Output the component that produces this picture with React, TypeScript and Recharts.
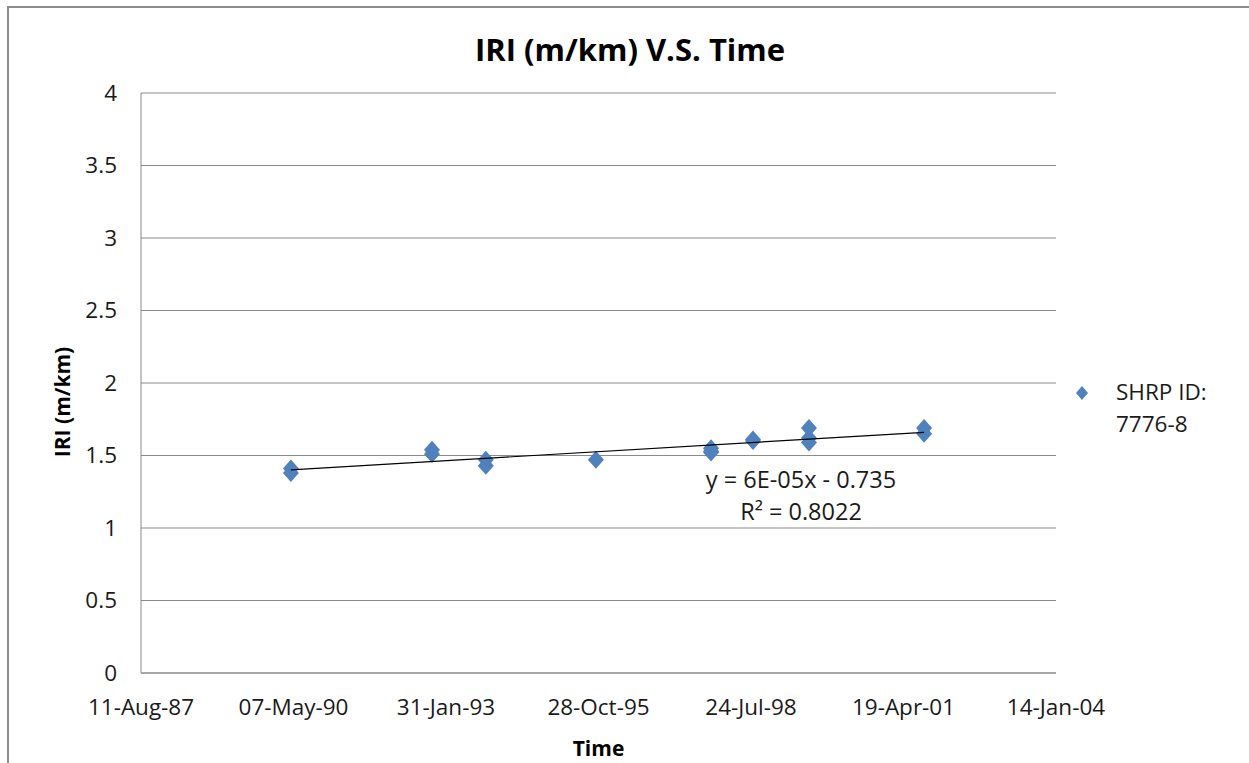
import React from 'react'
import { ScatterChart, Scatter, XAxis, YAxis, CartesianGrid } from 'recharts'

// survey dates and IRI readings (m/km)
const surveyDates = [
  '1990-04-20', '1990-04-20',
  '1992-10-31', '1992-10-31',
  '1993-10-19', '1993-10-19',
  '1995-10-11',
  '1997-11-04', '1997-11-04', '1997-11-04',
  '1998-08-06', '1998-08-06',
  '1999-08-08', '1999-08-08', '1999-08-08',
  '2001-09-01', '2001-09-01',
]
const iriValues = [
  1.41, 1.38,
  1.54, 1.51,
  1.47, 1.43,
  1.47,
  1.55, 1.53, 1.52,
  1.61, 1.60,
  1.69, 1.62, 1.59,
  1.69, 1.65,
]
// Excel date serials (11-Aug-87 ... 14-Jan-04)
const xTicks = [32000, 33000, 34000, 35000, 36000, 37000, 38000]
const yTicks = [0, 0.5, 1, 1.5, 2, 2.5, 3, 3.5, 4]
const seriesName = ['SHRP ID:', '7776-8']
const equation = 'y = 6E-05x - 0.735'
const rSquared = 'R² = 0.8022'

const FONT = '"Open Sans", sans-serif'
const BLUE = '#4F81BD'
const GRID = '#8a8a8a'
const MONTHS = ['Jan', 'Feb', 'Mar', 'Apr', 'May', 'Jun', 'Jul', 'Aug', 'Sep', 'Oct', 'Nov', 'Dec']

const toSerial = (s: string) => {
  const [y, m, d] = s.split('-').map(Number)
  return Date.UTC(y, m - 1, d) / 86400000 + 25569
}

const fmtSerial = (v: number) => {
  const dt = new Date((v - 25569) * 86400000)
  const dd = String(dt.getUTCDate()).padStart(2, '0')
  const yy = String(dt.getUTCFullYear() % 100).padStart(2, '0')
  return `${dd}-${MONTHS[dt.getUTCMonth()]}-${yy}`
}

const points = surveyDates.map((d, i) => ({ x: toSerial(d), y: iriValues[i] }))

// linear trendline fitted to the points, drawn across the data range
const n = points.length
const mx = points.reduce((s, p) => s + p.x, 0) / n
const my = points.reduce((s, p) => s + p.y, 0) / n
const slope = points.reduce((s, p) => s + (p.x - mx) * (p.y - my), 0) /
  points.reduce((s, p) => s + (p.x - mx) ** 2, 0)
const xs = points.map(p => p.x)
const trend = [Math.min(...xs), Math.max(...xs)].map(x => ({ x, y: my + slope * (x - mx) }))

const Diamond = (props: any) => {
  const { cx, cy } = props
  if (cx == null || cy == null) return null
  return <polygon points={`${cx},${cy - 9} ${cx + 8},${cy} ${cx},${cy + 9} ${cx - 8},${cy}`} fill={BLUE} />
}

const YTitle = (props: any) => {
  const { viewBox } = props
  const x = viewBox.x + 62
  const y = 402
  return (
    <text x={x} y={y} transform={`rotate(-90, ${x}, ${y})`} textAnchor="middle" dominantBaseline="central"
      style={{ fontFamily: FONT, fontSize: 21, fontWeight: 700, fill: '#000' }}>
      IRI (m/km)
    </text>
  )
}

const XTitle = (props: any) => {
  const { viewBox } = props
  return (
    <text x={viewBox.x + viewBox.width / 2} y={748} textAnchor="middle" dominantBaseline="central"
      style={{ fontFamily: FONT, fontSize: 21, fontWeight: 700, fill: '#000' }}>
      Time
    </text>
  )
}

export default function App() {
  const tick = { fontSize: 22.5, fill: '#1a1a1a', fontFamily: FONT }
  return (
    <div style={{ position: 'fixed', left: 0, top: 0, width: 1249, height: 763, overflow: 'hidden', background: '#fff' }}>
      <div style={{
        position: 'absolute', left: 7, top: 6, width: 1300, height: 800,
        borderLeft: '2px solid #8c8c8c', borderTop: '2px solid #8c8c8c',
      }} />
      <div style={{
        position: 'absolute', left: 0, top: 28, width: 1260, textAlign: 'center',
        fontFamily: FONT, fontSize: 31, fontWeight: 700, color: '#000',
      }}>
        IRI (m/km) V.S. Time
      </div>
      <div style={{ position: 'absolute', left: 0, top: 0 }}>
        <ScatterChart width={1249} height={763} margin={{ top: 93, right: 193, bottom: 30, left: 0 }}>
          <CartesianGrid vertical={false} stroke={GRID} strokeWidth={1} />
          <XAxis type="number" dataKey="x" domain={[32000, 38000]} ticks={xTicks} tickFormatter={fmtSerial}
            height={60} stroke={GRID} tickLine={false} tick={tick} tickMargin={20} interval={0}
            label={<XTitle />} />
          <YAxis type="number" dataKey="y" domain={[0, 4]} ticks={yTicks} width={141}
            stroke={GRID} tickLine={false} tick={tick} tickMargin={18} interval={0}
            label={<YTitle />} />
          <Scatter data={points} fill={BLUE} shape={<Diamond />} isAnimationActive={false} />
          <Scatter data={trend} line={{ stroke: '#000', strokeWidth: 1.2 }} shape={() => null} isAnimationActive={false} />
        </ScatterChart>
      </div>
      <div style={{ position: 'absolute', left: 651, top: 463, width: 300, textAlign: 'center',
        fontFamily: FONT, fontSize: 23.5, color: '#1a1a1a', lineHeight: '32px' }}>
        <div>{equation}</div>
        <div>{rSquared}</div>
      </div>
      <div style={{ position: 'absolute', left: 1075, top: 376, fontFamily: FONT, fontSize: 22.5, color: '#1a1a1a', lineHeight: '32px' }}>
        <svg width={16} height={16} style={{ position: 'absolute', left: 0, top: 9 }}>
          <polygon points="7,1 13,8 7,15 1,8" fill={BLUE} />
        </svg>
        <div style={{ marginLeft: 41 }}>{seriesName[0]}</div>
        <div style={{ marginLeft: 41 }}>{seriesName[1]}</div>
      </div>
    </div>
  )
}
